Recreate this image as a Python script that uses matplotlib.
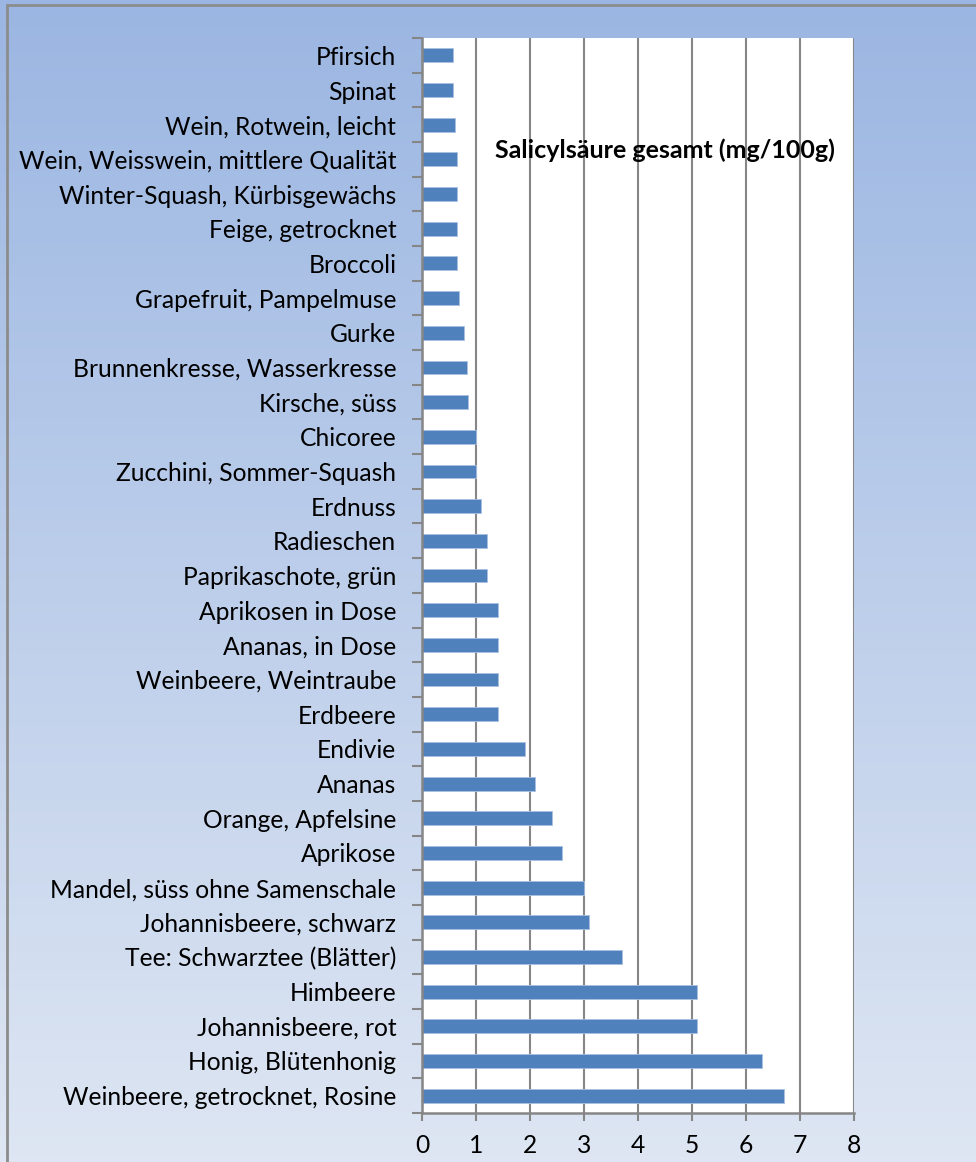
import numpy as np
import matplotlib
matplotlib.use("Agg")
import matplotlib.pyplot as plt
from matplotlib.patches import Rectangle

categories = [
    "Pfirsich", "Spinat", "Wein, Rotwein, leicht", "Wein, Weisswein, mittlere Qualität",
    "Winter-Squash, Kürbisgewächs", "Feige, getrocknet", "Broccoli",
    "Grapefruit, Pampelmuse", "Gurke", "Brunnenkresse, Wasserkresse", "Kirsche, süss",
    "Chicoree", "Zucchini, Sommer-Squash", "Erdnuss", "Radieschen",
    "Paprikaschote, grün", "Aprikosen in Dose", "Ananas, in Dose",
    "Weinbeere, Weintraube", "Erdbeere", "Endivie", "Ananas", "Orange, Apfelsine",
    "Aprikose", "Mandel, süss ohne Samenschale", "Johannisbeere, schwarz",
    "Tee: Schwarztee (Blätter)", "Himbeere", "Johannisbeere, rot",
    "Honig, Blütenhonig", "Weinbeere, getrocknet, Rosine",
]
values = [
    0.58, 0.58, 0.62, 0.64, 0.64, 0.64, 0.65, 0.68, 0.78, 0.84, 0.85,
    1.0, 1.0, 1.1, 1.2, 1.2, 1.4, 1.4, 1.4, 1.4, 1.9, 2.1, 2.4, 2.6,
    3.0, 3.1, 3.7, 5.1, 5.1, 6.3, 6.7,
]
x_ticks = [0, 1, 2, 3, 4, 5, 6, 7, 8]
series_name = "Salicylsäure gesamt (mg/100g)"

plt.rcParams['font.family'] = ['Lato', 'DejaVu Sans']

W, H = 976, 1162
fig = plt.figure(figsize=(W / 100, H / 100), dpi=100)

# gradient background
bg = fig.add_axes([0, 0, 1, 1], zorder=0)
top = np.array([155, 182, 226]) / 255
bot = np.array([222, 230, 243]) / 255
t = np.linspace(0, 1, 256)[:, None]
grad = top[None, :] * (1 - t) + bot[None, :] * t
bg.imshow(grad[:, None, :], aspect='auto', extent=[0, 1, 0, 1], origin='upper')
bg.set_xlim(0, 1); bg.set_ylim(0, 1)
bg.axis('off')
bg.add_patch(Rectangle((7 / W, -0.1), 1.2, 1 - 5 / H + 0.1, fill=False,
                       edgecolor='#8c8c8c', linewidth=2))

ax = fig.add_axes([422 / W, 1 - 1113 / H, 432 / W, 1075 / H], zorder=1)
ax.set_facecolor('white')
y = np.arange(len(categories))
ax.barh(y, values, height=0.4, color='#4F81BD', edgecolor='#A9C0E0',
        linewidth=0.6, zorder=3)
ax.set_ylim(len(categories) - 0.5, -0.5)
ax.set_xlim(0, 8)
ax.set_xticks(x_ticks)
ax.set_xticklabels([str(v) for v in x_ticks])
ax.set_yticks(y)
ax.set_yticklabels(categories)
ax.set_yticks(np.arange(-0.5, len(categories), 1), minor=True)
ax.tick_params(axis='y', which='major', length=0, pad=18.5, labelsize=17.7)
ax.tick_params(axis='y', which='minor', length=7, width=1.5, color='#868686')
ax.tick_params(axis='x', which='major', length=6, width=1.5, color='#868686',
               labelsize=17.7, pad=9)
ax.grid(axis='x', color='#868686', linewidth=1.5, zorder=1)
ax.set_axisbelow(True)
for s in ['top', 'right']:
    ax.spines[s].set_visible(False)
for s in ['left', 'bottom']:
    ax.spines[s].set_color('#868686')
    ax.spines[s].set_linewidth(1.8)
    ax.spines[s].set_zorder(4)

ax.text(665 / W, 1 - 150 / H, series_name, transform=fig.transFigure,
        ha='center', va='center', fontsize=18, fontweight='bold', zorder=5)

fig.savefig('out.png', dpi=100)
